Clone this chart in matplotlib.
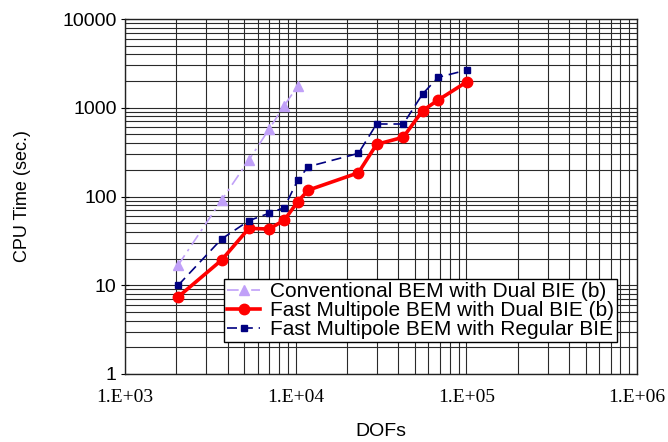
import numpy as np
import matplotlib
matplotlib.use("Agg")
from matplotlib import pyplot as plt
from matplotlib.ticker import LogLocator, FuncFormatter, NullFormatter

plt.rcParams['font.family'] = ['Liberation Sans', 'DejaVu Sans']

# DOFs and CPU times (sec.)
dofs_conv = [2050, 3680, 5320, 6980, 8570, 10280]
time_conv = [16.9, 91, 258, 572, 1055, 1759]

dofs_fmm = [2050, 3680, 5320, 6980, 8570, 10280, 11860, 23300, 29800,
            42700, 55400, 68400, 101000]
time_dual = [7.4, 19.2, 43.8, 43, 54, 87.5, 118, 185, 387, 465, 927, 1223, 1966]
time_regular = [10, 33.2, 53.4, 64.7, 74.8, 153, 217, 306, 656, 656, 1429, 2203, 2662]

x_ticks = [1e3, 1e4, 1e5, 1e6]
y_ticks = [1, 10, 100, 1000, 10000]

fig = plt.figure(figsize=(6.68, 4.42), dpi=100)
ax = fig.add_axes([125 / 668, 1 - 374 / 442, 512 / 668, 355 / 442])

ax.plot(dofs_conv, time_conv, color='#c0a0f8', ls=(0, (7, 3, 1.5, 3)), lw=1.2,
        marker='^', ms=6.5, label='Conventional BEM with Dual BIE (b)')
ax.plot(dofs_fmm, time_dual, color='#ff0000', ls='-', lw=2.6,
        marker='o', ms=7.5, label='Fast Multipole BEM with Dual BIE (b)')
ax.plot(dofs_fmm, time_regular, color='#000080', ls=(0, (6, 3.5)), lw=1.2,
        marker='s', ms=4, label='Fast Multipole BEM with Regular BIE')

ax.set_xscale('log')
ax.set_yscale('log')
ax.set_xlim(1e3, 1e6)
ax.set_ylim(1, 1e4)
ax.set_xticks(x_ticks)
ax.set_yticks(y_ticks)
ax.xaxis.set_minor_locator(LogLocator(base=10, subs=np.arange(2, 10)))
ax.yaxis.set_minor_locator(LogLocator(base=10, subs=np.arange(2, 10)))
ax.xaxis.set_minor_formatter(NullFormatter())
ax.yaxis.set_minor_formatter(NullFormatter())
ax.xaxis.set_major_formatter(FuncFormatter(lambda v, p: '1.E+%02d' % round(np.log10(v))))
ax.yaxis.set_major_formatter(FuncFormatter(lambda v, p: '%d' % v))

ax.grid(True, which='both', color='#2a2a2a', lw=0.8)
ax.set_axisbelow(True)
for s in ax.spines.values():
    s.set_color('#222222')
    s.set_linewidth(1.0)

ax.tick_params(axis='y', which='major', direction='inout', length=6, labelsize=14, pad=3)
ax.tick_params(axis='y', which='minor', length=0)
ax.tick_params(axis='x', which='both', length=0, pad=11)
for t in ax.get_xticklabels():
    t.set_family(['Liberation Serif', 'DejaVu Serif'])
    t.set_fontsize(14)

ax.set_xlabel('DOFs', fontsize=14)
ax.xaxis.set_label_coords(0.5, -0.163)
ax.xaxis.label.set_va('center')
ax.set_ylabel('CPU Time (sec.)', fontsize=13)
ax.yaxis.set_label_coords(-0.201, 0.5)
ax.yaxis.label.set_va('center')

leg = ax.legend(loc='lower left', bbox_to_anchor=(0.193, 0.09), borderaxespad=0,
                fontsize=15, frameon=True, fancybox=False, framealpha=1,
                edgecolor='black', handlelength=1.6, handletextpad=0.45,
                labelspacing=0.0, borderpad=0.15)
leg.get_frame().set_linewidth(1.0)

fig.savefig('out.png', dpi=100)
